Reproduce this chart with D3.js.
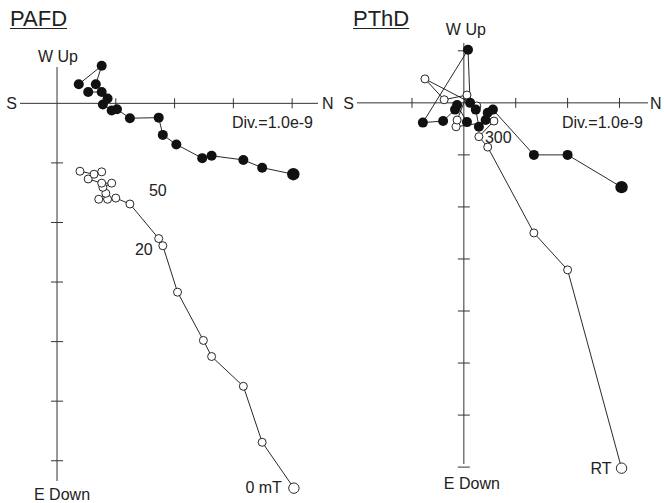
<!DOCTYPE html>
<html>
<head>
<meta charset="utf-8">
<script src="https://cdn.jsdelivr.net/npm/d3@7"></script>
<style>
  body { margin: 0; background: #fff; }
  text { font-family: "Liberation Sans", Arial, sans-serif; fill: #222; }
</style>
</head>
<body>
<svg id="chart" width="664" height="503"></svg>
<script>
// values in Div units (1 Div = 1.0e-9), from the first step to the last

// PAFD horizontal projection (N, E) - filled
var pafdHN = [4.02, 3.49, 3.17, 2.63, 2.47, 2.03, 1.80, 1.73, 1.24, 1.02, 0.93, 0.78, 0.86, 0.76, 0.53, 0.66, 0.76, 0.37];
var pafdHE = [1.19, 1.08, 0.95, 0.88, 0.92, 0.69, 0.53, 0.24, 0.25, 0.10, 0.12, 0.02, -0.08, -0.19, -0.19, -0.32, -0.63, -0.32];
// PAFD vertical projection (N, Down) - open
var pafdVN = [4.03, 3.49, 3.17, 2.63, 2.49, 2.05, 1.80, 1.73, 1.24, 1.00, 0.86, 0.71, 0.83, 0.78, 0.93, 0.76, 0.53, 0.76, 0.63, 0.39];
var pafdVD = [6.46, 5.69, 4.75, 4.25, 3.98, 3.17, 2.39, 2.27, 1.69, 1.59, 1.61, 1.61, 1.51, 1.41, 1.34, 1.34, 1.27, 1.15, 1.19, 1.14];

// PThD horizontal projection (N, E) - filled
var pthdHN = [3.04, 2.00, 1.35, 0.56, 0.46, 0.42, 0.29, 0.23, 0.12, 0.08, -0.79, -0.40, -0.17, -0.13, 0.06];
var pthdHE = [1.62, 1.00, 1.00, 0.13, 0.19, 0.33, 0.46, 0.13, 0.00, -1.02, 0.38, 0.35, 0.13, 0.04, 0.37];
// PThD vertical projection (N, Down) - open
var pthdVN = [3.04, 2.00, 1.35, 0.46, 0.29, 0.58, -0.15, -0.13, 0.06, -0.38, -0.75, 0.25];
var pthdVD = [7.02, 3.21, 2.50, 0.85, 0.65, 0.35, 0.46, 0.33, -0.15, -0.06, -0.46, 0.06];

var titles = ["PAFD", "PThD"];
var divLabel = "Div.=1.0e-9";
var stepLabelsL = [["0 mT", 4.03, 6.46], ["20", 1.73, 2.27], ["50", 1.24, 1.45]];
var stepLabelsR = [["RT", 3.04, 7.02], ["300", 0.29, 0.65]];

var svg = d3.select("#chart");

function panel(cfg) {
    var x = d3.scaleLinear().domain(cfg.xDom).range(cfg.xRange);
    var y = d3.scaleLinear().domain(cfg.yDom).range(cfg.yRange);
    var g = svg.append("g");

    var t = g.append("text").attr("x", cfg.titleX).attr("y", 26)
        .style("font-size", "22px").text(cfg.title);
    var tw = t.node().getComputedTextLength();
    g.append("line")
        .attr("x1", cfg.titleX).attr("x2", cfg.titleX + tw)
        .attr("y1", 28.5).attr("y2", 28.5)
        .style("stroke", "#222").style("stroke-width", 1.2);

    // axes
    g.append("line").attr("x1", x(cfg.xDom[0])).attr("x2", x(cfg.xDom[1]))
        .attr("y1", y(0)).attr("y2", y(0)).style("stroke", "#333");
    g.append("line").attr("x1", x(0)).attr("x2", x(0))
        .attr("y1", y(cfg.yDom[0])).attr("y2", y(cfg.yDom[1])).style("stroke", "#333");

    g.selectAll(".xt").data(cfg.xTicks).join("line")
        .attr("x1", function (d) { return x(d); }).attr("x2", function (d) { return x(d); })
        .attr("y1", y(0) - 5).attr("y2", y(0) + 5).style("stroke", "#333");
    g.selectAll(".yt").data(cfg.yTicks).join("line")
        .attr("y1", function (d) { return y(d); }).attr("y2", function (d) { return y(d); })
        .attr("x1", x(0) - 6).attr("x2", x(0) + 6).style("stroke", "#333");

    g.append("text").attr("x", x(cfg.xDom[0]) - 3).attr("y", y(0) + 6)
        .attr("text-anchor", "end").style("font-size", "16px").text("S");
    g.append("text").attr("x", x(cfg.xDom[1]) + cfg.nDx).attr("y", y(0) + 6)
        .style("font-size", "16px").text("N");
    g.append("text").attr("x", x(0) + cfg.upDx).attr("y", y(cfg.yDom[0]) - cfg.upDy)
        .attr("text-anchor", "middle").style("font-size", "16px").text("W Up");
    g.append("text").attr("x", x(0) + cfg.downDx).attr("y", y(cfg.yDom[1]) + cfg.downDy)
        .attr("text-anchor", "middle").style("font-size", "16px").text("E Down");
    g.append("text").attr("x", x(cfg.xDom[1]) - 5).attr("y", y(0) + 25)
        .attr("text-anchor", "end").style("font-size", "16px").text(divLabel);

    var line = d3.line()
        .x(function (d) { return x(d[0]); })
        .y(function (d) { return y(d[1]); });

    var hPts = d3.zip(cfg.hN, cfg.hE);
    var vPts = d3.zip(cfg.vN, cfg.vD);

    g.append("path").datum(vPts).attr("d", line)
        .style("fill", "none").style("stroke", "#111").style("stroke-width", 0.9);
    g.append("path").datum(hPts).attr("d", line)
        .style("fill", "none").style("stroke", "#111").style("stroke-width", 0.9);

    g.selectAll(".open").data(vPts).join("circle")
        .attr("cx", function (d) { return x(d[0]); })
        .attr("cy", function (d) { return y(d[1]); })
        .attr("r", function (d, i) { return i == 0 ? 5.2 : 4; })
        .style("fill", "#fff").style("stroke", "#111").style("stroke-width", 0.9);
    g.selectAll(".filled").data(hPts).join("circle")
        .attr("cx", function (d) { return x(d[0]); })
        .attr("cy", function (d) { return y(d[1]); })
        .attr("r", function (d, i) { return i == 0 ? 6.2 : 5; })
        .style("fill", "#111");

    g.selectAll(".step").data(cfg.steps).join("text")
        .attr("x", function (d, i) { return x(d[1]) + cfg.stepDx[i]; })
        .attr("y", function (d, i) { return y(d[2]) + cfg.stepDy[i]; })
        .attr("text-anchor", function (d, i) { return cfg.stepDx[i] < 0 ? "end" : "start"; })
        .style("font-size", "16px")
        .text(function (d) { return d[0]; });
}

panel({
    title: titles[0], titleX: 10,
    xDom: [-0.63, 4.44], xRange: [20, 318],
    yDom: [-0.61, 6.34], yRange: [67, 481],
    xTicks: [1, 2, 3, 4], yTicks: [1, 2, 3, 4, 5, 6],
    nDx: 4, upDx: 1, upDy: 5, downDx: 5, downDy: 19,
    hN: pafdHN, hE: pafdHE, vN: pafdVN, vD: pafdVD,
    steps: stepLabelsL, stepDx: [-12, -6, 19], stepDy: [5, 16, 6]
});

panel({
    title: titles[1], titleX: 353,
    xDom: [-2.06, 3.55], xRange: [357, 648],
    yDom: [-1.15, 6.94], yRange: [43, 464],
    xTicks: [-1, 1, 2, 3], yTicks: [-1, 1, 2, 3, 4, 5, 6, 7],
    nDx: 2, upDx: 2, upDy: 8, downDx: 8, downDy: 25,
    hN: pthdHN, hE: pthdHE, vN: pthdVN, vD: pthdVD,
    steps: stepLabelsR, stepDx: [-10, 6], stepDy: [6, 6]
});
</script>
</body>
</html>
